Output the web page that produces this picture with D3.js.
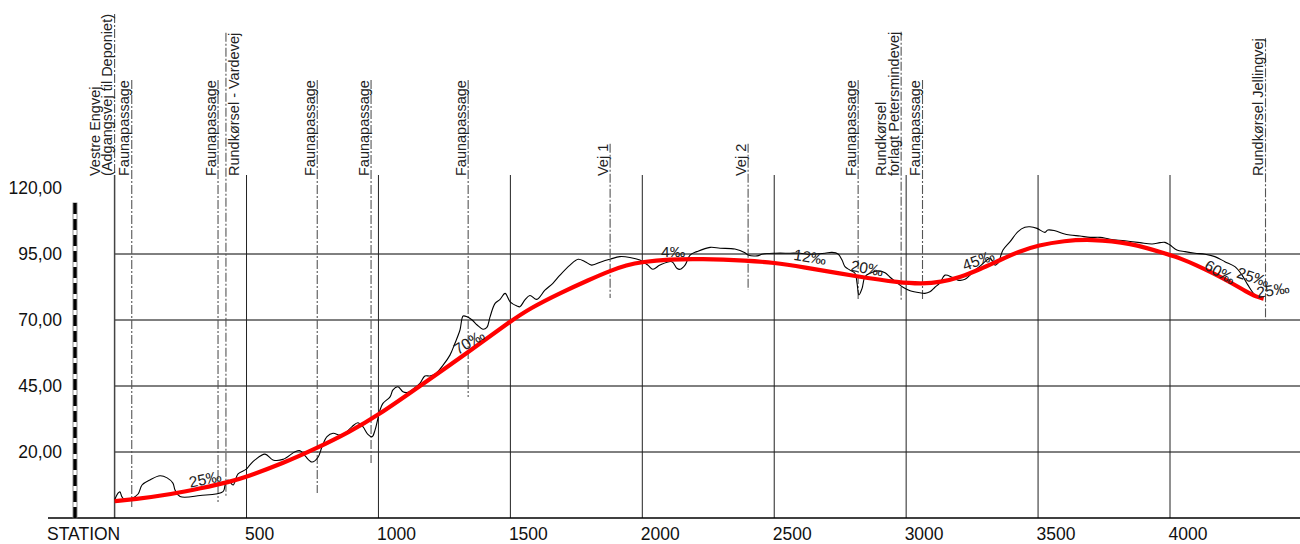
<!DOCTYPE html>
<html>
<head>
<meta charset="utf-8">
<script src="https://cdn.jsdelivr.net/npm/d3@7"></script>
<style>
  html, body { margin: 0; padding: 0; background: #fff; }
  svg { display: block; }
  text { font-family: "Liberation Sans", Arial, sans-serif; }
</style>
</head>
<body>
<svg id="chart" width="1300" height="544"></svg>
<script>
// Axis ticks
const stationTicks = [500, 1000, 1500, 2000, 2500, 3000, 3500, 4000];
const elevationTicks = [20, 45, 70, 95, 120];
const elevationGrid = [20, 45, 70, 95];

// Existing terrain (station in m, elevation in m)
const terrainStation = [0, 13, 20, 28, 39, 62, 89, 104, 134, 172,
  199, 221, 229, 248, 324, 411, 419, 430, 449, 468,
  498, 513, 532, 570, 600, 638, 684, 703, 722, 748,
  771, 786, 805, 828, 854, 873, 900, 922, 941, 960,
  976, 987, 1006, 1017, 1044, 1055, 1074, 1093, 1108, 1127,
  1157, 1176, 1195, 1218, 1245, 1271, 1290, 1309, 1321, 1336,
  1355, 1374, 1396, 1411, 1423, 1442, 1461, 1480, 1499, 1525,
  1536, 1555, 1574, 1600, 1631, 1661, 1688, 1726, 1757, 1783,
  1808, 1846, 1877, 1915, 1953, 1991, 2021, 2040, 2067, 2112,
  2131, 2143, 2162, 2181, 2207, 2257, 2295, 2351, 2389, 2401,
  2435, 2457, 2503, 2560, 2598, 2636, 2692, 2719, 2742, 2757,
  2768, 2787, 2806, 2814, 2821, 2833, 2844, 2863, 2893, 2920,
  2939, 2965, 2988, 3015, 3052, 3071, 3090, 3109, 3128, 3147,
  3174, 3196, 3223, 3242, 3261, 3280, 3299, 3318, 3337, 3348,
  3367, 3394, 3424, 3450, 3469, 3496, 3526, 3537, 3564, 3594,
  3621, 3659, 3697, 3735, 3773, 3829, 3886, 3932, 3962, 3981,
  4000, 4026, 4057, 4095, 4133, 4170, 4208, 4246, 4273, 4295,
  4322, 4350];
const terrainElevation = [1.8, 4.4, 4.9, 3.0, 1.8, 2.2, 4.1, 7.5, 9.4, 11.0,
  10.2, 8.2, 5.6, 3.1, 3.5, 5.0, 7.5, 9.4, 7.5, 11.7,
  13.4, 15.1, 17.0, 19.2, 17.0, 17.2, 20.1, 20.5, 18.5, 16.2,
  18.0, 22.0, 25.8, 27.1, 26.4, 27.1, 29.6, 31.1, 29.6, 26.7,
  25.8, 28.3, 35.9, 38.4, 40.9, 43.5, 44.7, 42.8, 42.5, 43.5,
  46.0, 48.8, 48.8, 49.8, 52.9, 56.7, 61.2, 66.2, 71.5, 71.2,
  70.0, 68.1, 66.5, 67.2, 71.2, 76.3, 77.8, 80.1, 76.9, 75.3,
  75.0, 77.6, 79.3, 77.8, 81.3, 83.9, 87.0, 90.8, 93.0, 92.1,
  90.8, 92.1, 93.0, 94.0, 93.7, 92.7, 90.8, 89.2, 90.8, 92.1,
  89.6, 89.2, 90.8, 94.6, 95.9, 97.5, 97.2, 96.9, 95.5, 94.6,
  94.3, 95.0, 95.3, 95.3, 95.3, 94.9, 95.3, 95.6, 95.0, 92.7,
  90.2, 88.9, 87.7, 83.9, 79.5, 82.0, 86.4, 87.7, 88.6, 87.9,
  86.2, 84.1, 82.4, 81.1, 80.3, 80.1, 80.7, 82.4, 84.1, 87.0,
  86.2, 85.1, 85.4, 87.0, 88.9, 90.4, 92.1, 93.4, 90.8, 91.5,
  96.5, 99.7, 103.5, 105.1, 105.3, 104.7, 103.2, 104.1, 103.8, 102.8,
  102.2, 101.8, 101.3, 101.3, 100.6, 100.0, 99.3, 98.8, 99.3, 99.4,
  98.4, 96.5, 95.9, 95.3, 94.9, 94.0, 92.1, 90.2, 87.0, 83.3,
  79.5, 78.0];

// Road design profile
const designStation = [0, 70, 221, 324, 437, 500, 638, 767, 890, 1000,
  1157, 1340, 1500, 1574, 1688, 1802, 1877, 1940, 2000, 2100,
  2220, 2401, 2500, 2598, 2818, 2977, 3062, 3130, 3206, 3280,
  3357, 3430, 3500, 3600, 3697, 3849, 4000, 4038, 4100, 4164,
  4230, 4290, 4328, 4355];
const designElevation = [1.4, 2.0, 4.1, 6.2, 8.7, 10.6, 15.7, 21.5, 27.6, 34.0,
  45.0, 57.8, 69.5, 74.4, 80.2, 85.4, 88.6, 90.8, 92.0, 93.0,
  93.2, 92.5, 91.7, 90.2, 86.4, 84.1, 83.7, 84.3, 86.2, 89.2,
  92.8, 96.0, 98.3, 100.0, 100.6, 99.3, 94.6, 93.4, 90.8, 87.7,
  84.2, 80.7, 78.7, 78.1];

// Crossings along the alignment
const markerStation = [0, 65, 392, 422, 768, 972, 1340, 1878, 2401, 2818, 2981, 3062, 4362];
const markerLabel = [
  ["Vestre Engvej", "(Adgangsvej til Deponiet)"],
  ["Faunapassage"], ["Faunapassage"], ["Rundkørsel - Vardevej"],
  ["Faunapassage"], ["Faunapassage"], ["Faunapassage"],
  ["Vej 1"], ["Vej 2"], ["Faunapassage"],
  ["Rundkørsel", "forlagt Petersmindevej"], ["Faunapassage"],
  ["Rundkørsel Jellingvej"]
];
const markerBottom = [125, -0.8, 1.1, 3.0, 4.5, 15.8, 40.8, 78.3, 81.4, 77.6, 77.4, 77.4, 70.0];

// Gradient annotations (‰)
const gradeText = ["25‰", "70‰", "4‰", "12‰", "20‰", "45‰", "60‰", "25‰", "25‰"];
const gradeStation = [343, 1343, 2117, 2636, 2852, 3273, 4190, 4315, 4390];
const gradeElevation = [9.8, 61.7, 96.1, 93.9, 89.7, 92.7, 88.2, 86.3, 81.4];
const gradeAngle = [-12, -32, 0, 9, 10, -20, 30, 18, -9];

const svg = d3.select("#chart");
const W = 1300, H = 544;
svg.append("rect").attr("width", W).attr("height", H).attr("fill", "#fff");

const x = d3.scaleLinear().domain([0, 4000]).range([114.6, 1170]);
const y = d3.scaleLinear().domain([-5, 120]).range([518, 188]);
const gridTop = 175;
const baseY = y(-5);

const comma = d3.formatLocale({ decimal: ",", thousands: ".", grouping: [3], currency: ["", ""] }).format(".2f");

// Horizontal grid
svg.append("g").selectAll("line").data(elevationGrid).join("line")
  .attr("x1", x(0)).attr("x2", W)
  .attr("y1", d => y(d)).attr("y2", d => y(d))
  .attr("stroke", "#000").attr("stroke-width", 1);

// Vertical grid
svg.append("g").selectAll("line").data(stationTicks).join("line")
  .attr("x1", d => x(d)).attr("x2", d => x(d))
  .attr("y1", gridTop).attr("y2", baseY)
  .attr("stroke", "#222").attr("stroke-width", 1);

// Start line
svg.append("line")
  .attr("x1", x(0)).attr("x2", x(0)).attr("y1", gridTop).attr("y2", baseY)
  .attr("stroke", "#444").attr("stroke-width", 1.5);

// Base line
svg.append("line")
  .attr("x1", 48).attr("x2", W).attr("y1", baseY).attr("y2", baseY)
  .attr("stroke", "#000").attr("stroke-width", 1.3);

// Elevation scale bar
svg.append("rect")
  .attr("x", 73).attr("y", 203).attr("width", 4).attr("height", baseY - 203)
  .attr("fill", "#fff").attr("stroke", "#777").attr("stroke-width", 0.8);
svg.append("line")
  .attr("x1", 75).attr("x2", 75).attr("y1", 203).attr("y2", baseY)
  .attr("stroke", "#000").attr("stroke-width", 3.4)
  .attr("stroke-dasharray", "11,5");

// Elevation labels
svg.append("g").selectAll("text").data(elevationTicks).join("text")
  .attr("x", 62).attr("y", d => y(d))
  .attr("dy", "0.36em")
  .attr("text-anchor", "end")
  .attr("font-size", 17.5).attr("fill", "#111")
  .text(d => comma(d));

// Station labels
svg.append("text").attr("x", 47).attr("y", 539.5)
  .attr("font-size", 17.5).attr("fill", "#111").text("STATION");
svg.append("g").selectAll("text").data(stationTicks).join("text")
  .attr("x", d => x(d) - 1.5).attr("y", 539.5)
  .attr("font-size", 17.5).attr("fill", "#111")
  .text(d => d);

// Crossing markers (labels read upwards beside a dash-dot line)
const labelsOnRight = new Set([3]);
const markerG = svg.append("g");
const labelBottom = 176;
markerStation.forEach((s, i) => {
  const lx = x(s);
  const lines = markerLabel[i];
  const g = markerG.append("g");
  let maxLen = 0;
  lines.forEach((t, j) => {
    const off = (lines.length - 1 - j) * 12.5;
    const tx = labelsOnRight.has(i) ? lx + 13.5 + off : lx - 2.5 - off;
    const el = g.append("text")
      .attr("transform", `translate(${tx},${labelBottom}) rotate(-90)`)
      .attr("font-size", 14.5).attr("fill", "#222")
      .text(t);
    maxLen = Math.max(maxLen, el.node().getComputedTextLength());
  });
  g.insert("line", "text")
    .attr("x1", lx).attr("x2", lx)
    .attr("y1", labelBottom - maxLen).attr("y2", y(markerBottom[i]))
    .attr("stroke", "#555").attr("stroke-width", 1.1)
    .attr("stroke-dasharray", "9,2,2,2");
});

// Terrain
const terrain = d3.zip(terrainStation, terrainElevation);
svg.append("path").datum(terrain)
  .attr("fill", "none").attr("stroke", "#000").attr("stroke-width", 1.1)
  .attr("stroke-linejoin", "round")
  .attr("d", d3.line().x(d => x(d[0])).y(d => y(d[1])).curve(d3.curveCatmullRom.alpha(0.5)));

// Design profile
const design = d3.zip(designStation, designElevation);
svg.append("path").datum(design)
  .attr("fill", "none").attr("stroke", "#ff0000").attr("stroke-width", 4.2)
  .attr("stroke-linecap", "butt").attr("stroke-linejoin", "round")
  .attr("d", d3.line().x(d => x(d[0])).y(d => y(d[1])).curve(d3.curveBasis));

// Gradient labels
svg.append("g").selectAll("text").data(gradeText).join("text")
  .attr("transform", (d, i) => `translate(${x(gradeStation[i])},${y(gradeElevation[i])}) rotate(${gradeAngle[i]})`)
  .attr("text-anchor", "middle").attr("dy", "0.36em")
  .attr("font-size", 15.5).attr("fill", "#222")
  .text(d => d);
</script>
</body>
</html>
